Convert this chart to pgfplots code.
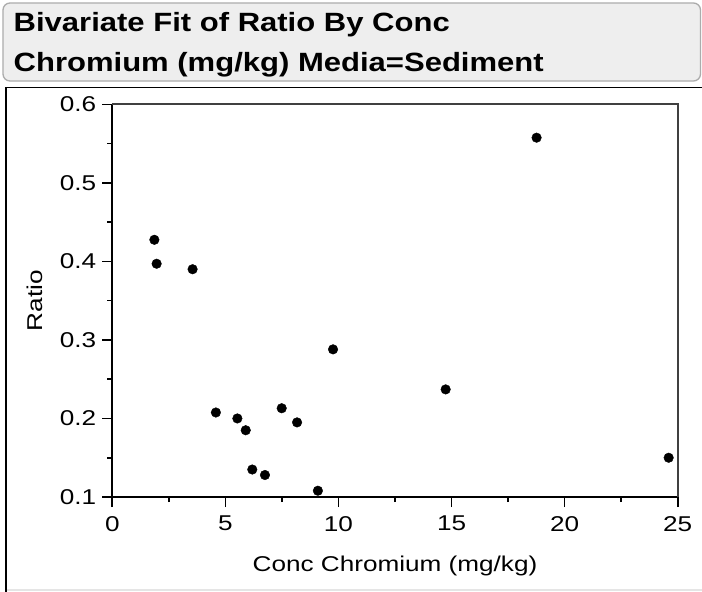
\documentclass[border=0pt]{standalone}
\usepackage{pgfplots}
\pgfplotsset{compat=1.18}
\usepackage{fontspec}
\setmainfont{Liberation Sans}[FakeStretch=1.22]
\newfontfamily\titlefont{Liberation Sans}[FakeStretch=1.175]
\begin{document}
\begin{tikzpicture}
\path[use as bounding box] (0,0) rectangle (702bp,-592bp);
\fill[white] (0,0) rectangle (702bp,-592bp);
\draw[draw=gray!65, fill=gray!13, line width=1.3bp, rounded corners=7bp] (3bp,-3bp) rectangle (700.5bp,-81bp);
\draw[black, line width=1.8bp] (6bp,-594bp) -- (6bp,-87.5bp) -- (704bp,-87.5bp);
\draw[gray!20, line width=1.5bp] (7bp,-590bp) -- (702bp,-590bp);
\node[anchor=base west, inner sep=0pt, font=\titlefont\bfseries\fontsize{26.5}{30}\selectfont] at (13.5bp,-31bp) {Bivariate Fit of Ratio By Conc};
\node[anchor=base west, inner sep=0pt, font=\titlefont\bfseries\fontsize{26.5}{30}\selectfont] at (13.5bp,-71bp) {Chromium (mg/kg) Media=Sediment};
\begin{axis}[
  at={(112.3bp,-497bp)}, anchor=south west,
  scale only axis, width=565.4bp, height=392.7bp,
  xmin=0, xmax=25, ymin=0.1, ymax=0.6,
  xtick={0,5,10,15,20,25}, ytick={0.1,0.2,0.3,0.4,0.5,0.6},
  minor x tick num=1, minor y tick num=1,
  tick align=outside,
  axis x line*=bottom, axis y line*=left,
  axis line style={line width=1.6bp, black},
  major tick length=10bp, minor tick length=5bp,
  tick style={black, line width=1.6bp},
  /pgf/number format/assume math mode=true,
  ticklabel style={font=\fontsize{21.5}{24}\selectfont, inner sep=0pt},
  yticklabel style={/pgf/number format/fixed, /pgf/number format/fixed zerofill, /pgf/number format/precision=1, anchor=east, xshift=-6bp},
  xticklabel style={anchor=north, yshift=-9bp},
  xlabel={Conc Chromium (mg/kg)}, ylabel={Ratio},
  label style={font=\fontsize{21.5}{24}\selectfont, inner sep=0pt},
  xlabel style={at={(axis description cs:0.5,-0.1902)}, anchor=base},
  ylabel style={at={(axis description cs:-0.1226,0.5)}, anchor=base},
  clip=false,
]
\addplot[only marks, mark=*, mark size=4.8bp, black] coordinates {
(1.86,0.4275) (1.96,0.397) (3.55,0.390) (4.58,0.2076) (5.53,0.200)
(5.90,0.185) (6.19,0.135) (6.75,0.128) (7.49,0.213) (8.17,0.195)
(9.09,0.108) (9.76,0.288) (18.76,0.5575) (14.74,0.237) (24.60,0.150)
};
\draw[line width=1.8bp, black!75] (rel axis cs:0,1) -- (rel axis cs:1,1) -- (rel axis cs:1,0);
\end{axis}
\end{tikzpicture}
\end{document}
